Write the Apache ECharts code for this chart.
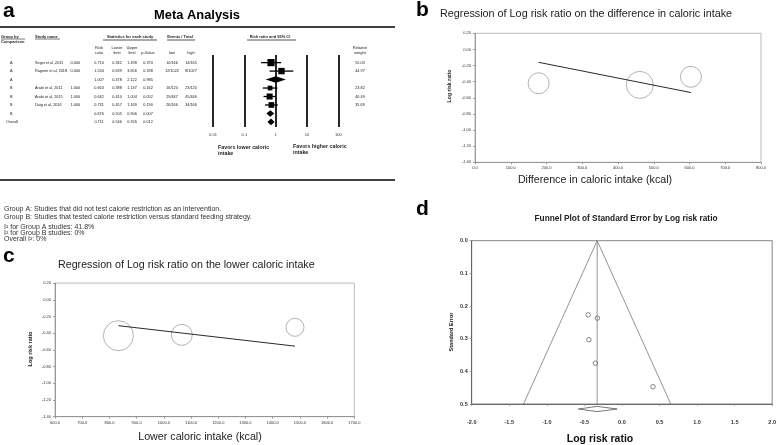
<!DOCTYPE html>
<html>
<head>
<meta charset="UTF-8">
<title>Meta Analysis</title>
<script src="https://cdn.jsdelivr.net/npm/echarts@6/dist/echarts.min.js"></script>
<style>
  html, body { margin: 0; padding: 0; background: #fff; }
  #main { width: 779px; height: 445px; }
</style>
</head>
<body>
<div id="main"></div>
<script>
// ---- panel a: forest plot table ----
var groups = ['A', 'A', 'A', 'B', 'B', 'B', 'B', 'Overall'];
var studies = ['Segni et al ,2011', 'Ragnier et al, 2018', '', 'Arabi et al, 2011', 'Arabi et al, 2015', 'Daig et al, 2016', '', ''];
var studyCode = ['0.000', '0.000', '', '1.000', '1.000', '1.000', '', ''];
var riskRatio = [0.710, 1.534, 1.007, 0.663, 0.642, 0.731, 0.676, 0.711];
var lowerLimit = [0.342, 0.639, 0.478, 0.388, 0.410, 0.457, 0.505, 0.546];
var upperLimit = [1.498, 3.656, 2.122, 1.137, 1.004, 1.169, 0.906, 0.926];
var pValue = [0.370, 0.338, 0.985, 0.162, 0.052, 0.190, 0.007, 0.012];
var eventsLow = ['10/166', '12/1022', '', '16/120', '29/447', '26/166', '', ''];
var eventsHigh = ['14/165', '8/1027', '', '23/120', '45/446', '34/166', '', ''];
var relWeight = [55.03, 44.97, 0, 23.82, 40.49, 35.69, 0, 0];
var isPooled = [0, 0, 1, 0, 0, 0, 1, 1];

// ---- panel b: difference in caloric intake ----
var diffIntake = [178, 461, 604];
var diffLogRR = [-0.42, -0.44, -0.34];
var diffBubble = [21, 27, 21];
var diffFit = [[178, -0.16], [604, -0.535]];

// ---- panel c: lower caloric intake ----
var lowIntake = [833, 1066, 1482];
var lowLogRR = [-0.43, -0.42, -0.33];
var lowBubble = [30, 21, 18];
var lowFit = [[833, -0.31], [1482, -0.555]];

// ---- panel d: funnel plot ----
var funnelLogRR = [-0.449, -0.327, -0.44, -0.353, 0.413];
var funnelSE = [0.227, 0.237, 0.303, 0.375, 0.447];
var funnelEdges = [[-1.31, 0.5], [-0.33, 0], [0.65, 0.5]];
var pooledLogRR = [-0.33, -0.58, -0.064];

var FF = 'Liberation Sans, Arial, sans-serif';
var chart = echarts.init(document.getElementById('main'));

var forestData = riskRatio.map(function (rr, i) {
    return [rr, i, lowerLimit[i], upperLimit[i], relWeight[i], isPooled[i]];
});

function renderForest(params, api) {
    var row = api.value(1);
    var c = api.coord([api.value(0), row]);
    var l = api.coord([api.value(2), row]);
    var h = api.coord([api.value(3), row]);
    if (api.value(5)) {
        return {
            type: 'polygon',
            shape: { points: [[l[0], c[1]], [c[0], c[1] - 3.3], [h[0], c[1]], [c[0], c[1] + 3.3]] },
            style: { fill: '#000' }
        };
    }
    var s = 2.8 + api.value(4) * 0.08;
    return {
        type: 'group',
        children: [
            { type: 'line', shape: { x1: l[0], y1: c[1], x2: h[0], y2: c[1] }, style: { stroke: '#000', lineWidth: 1.3 } },
            { type: 'rect', shape: { x: c[0] - s / 2, y: c[1] - s / 2, width: s, height: s }, style: { fill: '#000' } }
        ]
    };
}

function renderDiamond(params, api) {
    var c = api.coord([api.value(0), 0.5]);
    var l = api.coord([api.value(1), 0.5]);
    var h = api.coord([api.value(2), 0.5]);
    var y = c[1] + 5;
    return {
        type: 'polygon',
        shape: { points: [[l[0], y], [c[0], y - 2.6], [h[0], y], [c[0], y + 2.6]] },
        style: { fill: '#fff', stroke: '#555', lineWidth: 0.8 }
    };
}

function fix(n) { return function (v) { return v.toFixed(n); }; }

function plainAxis(grid, min, max, interval, digits, bold, size) {
    return {
        type: 'value', gridIndex: grid, min: min, max: max, interval: interval,
        axisLine: { show: true, onZero: false, lineStyle: { color: '#888', width: 0.8 } },
        axisTick: { show: true, length: 2, lineStyle: { color: '#888', width: 0.8 } },
        splitLine: { show: false },
        axisLabel: { formatter: fix(digits), fontSize: size, color: '#333', margin: 4,
            fontWeight: bold ? 'bold' : 'normal', fontFamily: FF }
    };
}

var dX = plainAxis(3, -2, 2, 0.5, 1, true, 5.5);
var dY = plainAxis(3, 0, 0.5, 0.1, 1, true, 5.5);
dY.inverse = true;
dX.axisLine.lineStyle.color = '#555';
dY.axisLine.lineStyle.color = '#555';
dX.axisLabel.margin = 15;

var option = {
    animation: false,
    backgroundColor: '#fff',
    grid: [
        { left: 213, top: 55, width: 125.3, height: 72 },
        { left: 475, top: 33.3, width: 286, height: 129, show: true, borderColor: '#aaa', borderWidth: 0.8 },
        { left: 55, top: 283.1, width: 299.3, height: 133.6, show: true, borderColor: '#aaa', borderWidth: 0.8 },
        { left: 471.7, top: 240.7, width: 305, height: 163.3, show: true, borderColor: '#666', borderWidth: 0.8 }
    ],
    xAxis: [
        {
            type: 'log', logBase: 10, gridIndex: 0, min: 0.01, max: 100,
            axisLine: { show: false }, axisTick: { show: false },
            splitLine: { show: true, lineStyle: { color: '#000', width: 1.7 } },
            axisLabel: { fontSize: 4, color: '#333', margin: 6, fontFamily: FF }
        },
        plainAxis(1, 0, 800, 100, 1, false, 4),
        plainAxis(2, 600, 1700, 100, 1, false, 4),
        dX
    ],
    yAxis: [
        { type: 'value', gridIndex: 0, min: -0.9, max: 7.6, inverse: true, show: false },
        plainAxis(1, -1.4, 0.2, 0.2, 2, false, 4),
        plainAxis(2, -1.4, 0.2, 0.2, 2, false, 4),
        dY
    ],
    series: [
        {
            type: 'custom', xAxisIndex: 0, yAxisIndex: 0, renderItem: renderForest,
            encode: { x: [0, 2, 3], y: 1 }, data: forestData
        },
        {
            type: 'scatter', xAxisIndex: 1, yAxisIndex: 1,
            data: diffIntake.map(function (x, i) { return [x, diffLogRR[i], diffBubble[i]]; }),
            symbolSize: function (v) { return v[2]; },
            itemStyle: { color: 'rgba(0,0,0,0)', borderColor: '#888', borderWidth: 0.8 }
        },
        {
            type: 'line', xAxisIndex: 1, yAxisIndex: 1, data: diffFit, showSymbol: false,
            lineStyle: { color: '#111', width: 0.9 }
        },
        {
            type: 'scatter', xAxisIndex: 2, yAxisIndex: 2,
            data: lowIntake.map(function (x, i) { return [x, lowLogRR[i], lowBubble[i]]; }),
            symbolSize: function (v) { return v[2]; },
            itemStyle: { color: 'rgba(0,0,0,0)', borderColor: '#888', borderWidth: 0.8 }
        },
        {
            type: 'line', xAxisIndex: 2, yAxisIndex: 2, data: lowFit, showSymbol: false,
            lineStyle: { color: '#111', width: 0.9 }
        },
        {
            type: 'line', xAxisIndex: 3, yAxisIndex: 3, data: funnelEdges, showSymbol: false,
            lineStyle: { color: '#777', width: 0.8 }
        },
        {
            type: 'line', xAxisIndex: 3, yAxisIndex: 3, showSymbol: false,
            data: [[pooledLogRR[0], 0], [pooledLogRR[0], 0.5]],
            lineStyle: { color: '#777', width: 0.8 }
        },
        {
            type: 'scatter', xAxisIndex: 3, yAxisIndex: 3, symbolSize: 4.5,
            data: funnelLogRR.map(function (x, i) { return [x, funnelSE[i]]; }),
            itemStyle: { color: '#fff', borderColor: '#444', borderWidth: 0.8 }
        },
        {
            type: 'custom', xAxisIndex: 3, yAxisIndex: 3, renderItem: renderDiamond, clip: false,
            encode: { x: [0, 1, 2] }, data: [pooledLogRR]
        }
    ]
};
chart.setOption(option);

// ---- text laid over the charts ----
function txt(s, x, y, size, o) {
    o = o || {};
    return {
        type: 'text', x: x, y: y, rotation: o.rot || 0, silent: true,
        style: {
            text: s, fill: o.color || '#222',
            font: (o.bold ? 'bold ' : '') + size + 'px ' + FF,
            textAlign: o.align || 'left', align: o.align || 'left',
            textVerticalAlign: 'middle', verticalAlign: 'middle'
        }
    };
}
function hline(x1, x2, y, w, color) {
    return { type: 'line', silent: true, shape: { x1: x1, y1: y, x2: x2, y2: y },
        style: { stroke: color || '#000', lineWidth: w } };
}

var g = [];
g.push(txt('a', 3, 11, 21, { bold: true, color: '#000' }));
g.push(txt('Meta Analysis', 197, 15, 12.9, { bold: true, align: 'center', color: '#000' }));
g.push(hline(0, 395, 27, 1.5));
g.push(hline(0, 395, 180, 1.5));

// header
var hs = 4;
g.push(txt('Group by', 1, 36.5, hs, { bold: true }));
g.push(txt('Comparison', 1, 41.5, hs, { bold: true }));
g.push(txt('Study name', 35, 36.5, hs, { bold: true }));
g.push(txt('Statistics for each study', 130, 36.5, hs, { bold: true, align: 'center' }));
g.push(txt('Events / Total', 180, 36.5, hs, { bold: true, align: 'center' }));
g.push(txt('Risk ratio and 95% CI', 270, 36.5, hs, { bold: true, align: 'center' }));
g.push(hline(1, 25, 39, 0.8, '#555'));
g.push(hline(35, 60, 39, 0.8, '#555'));
g.push(hline(103, 157, 40, 1, '#555'));
g.push(hline(167, 195, 40, 1, '#555'));
g.push(hline(247, 296, 40, 1, '#555'));
var sub = [['Risk', 'ratio', 99], ['Lower', 'limit', 117], ['Upper', 'limit', 132], ['', 'p-Value', 148], ['', 'low', 172], ['', 'high', 191]];
sub.forEach(function (s) {
    if (s[0]) g.push(txt(s[0], s[2], 47.5, hs, { align: 'center' }));
    g.push(txt(s[1], s[2], 52.5, hs, { align: 'center' }));
});
g.push(txt('Relative', 360, 47.5, hs, { align: 'center' }));
g.push(txt('weight', 360, 52.5, hs, { align: 'center' }));

var cs = 3.8;
groups.forEach(function (grp, i) {
    var y = chart.convertToPixel({ yAxisIndex: 0 }, i);
    g.push(txt(grp, grp === 'Overall' ? 6 : 10, y, cs));
    if (studies[i]) g.push(txt(studies[i], 35, y, cs));
    if (studyCode[i]) g.push(txt(studyCode[i], 80, y, cs, { align: 'right' }));
    g.push(txt(riskRatio[i].toFixed(3), 99, y, cs, { align: 'center' }));
    g.push(txt(lowerLimit[i].toFixed(3), 117, y, cs, { align: 'center' }));
    g.push(txt(upperLimit[i].toFixed(3), 132, y, cs, { align: 'center' }));
    g.push(txt(pValue[i].toFixed(3), 148, y, cs, { align: 'center' }));
    if (eventsLow[i]) g.push(txt(eventsLow[i], 172, y, cs, { align: 'center' }));
    if (eventsHigh[i]) g.push(txt(eventsHigh[i], 191, y, cs, { align: 'center' }));
    if (relWeight[i]) g.push(txt(relWeight[i].toFixed(2), 360, y, cs, { align: 'center' }));
});

g.push(txt('Favors lower caloric', 218, 148, 5.3, { bold: true }));
g.push(txt('intake', 218, 154, 5.3, { bold: true }));
g.push(txt('Favors higher caloric', 293, 147, 5.3, { bold: true }));
g.push(txt('intake', 293, 153, 5.3, { bold: true }));

g.push(txt('Group A: Studies that did not test calorie restriction as an intervention.', 4, 209, 7, { color: '#333' }));
g.push(txt('Group B: Studies that tested calorie restriction versus standard feeding strategy.', 4, 217, 7, { color: '#333' }));
g.push(txt('I\u00b2 for Group A studies: 41.8%', 4, 227, 7, { color: '#333' }));
g.push(txt('I\u00b2 for Group B studies: 0%', 4, 233, 7, { color: '#333' }));
g.push(txt('Overall I\u00b2: 0%', 4, 239, 7, { color: '#333' }));

// panel b
g.push(txt('b', 416, 10, 21, { bold: true, color: '#000' }));
g.push(txt('Regression of Log risk ratio on the difference in caloric intake', 440, 14, 10.8));
g.push(txt('Log risk ratio', 450, 86, 5.2, { bold: true, rot: Math.PI / 2, align: 'center' }));
g.push(txt('Difference in caloric intake (kcal)', 595, 180, 10.7, { align: 'center' }));

// panel c
g.push(txt('c', 3, 256, 21, { bold: true, color: '#000' }));
g.push(txt('Regression of Log risk ratio on the lower caloric intake', 58, 265, 10.7));
g.push(txt('Log risk ratio', 30, 349, 5.5, { bold: true, rot: Math.PI / 2, align: 'center' }));
g.push(txt('Lower caloric intake (kcal)', 200, 437, 10.7, { align: 'center' }));

// panel d
g.push(txt('d', 416, 209, 21, { bold: true, color: '#000' }));
g.push(txt('Funnel Plot of Standard Error by Log risk ratio', 626, 219, 8.3, { bold: true, align: 'center' }));
g.push(txt('Standard Error', 451, 332, 5.5, { bold: true, rot: Math.PI / 2, align: 'center' }));
g.push(txt('Log risk ratio', 600, 439, 10.5, { bold: true, align: 'center', color: '#111' }));

chart.setOption({ graphic: g });
</script>
</body>
</html>
